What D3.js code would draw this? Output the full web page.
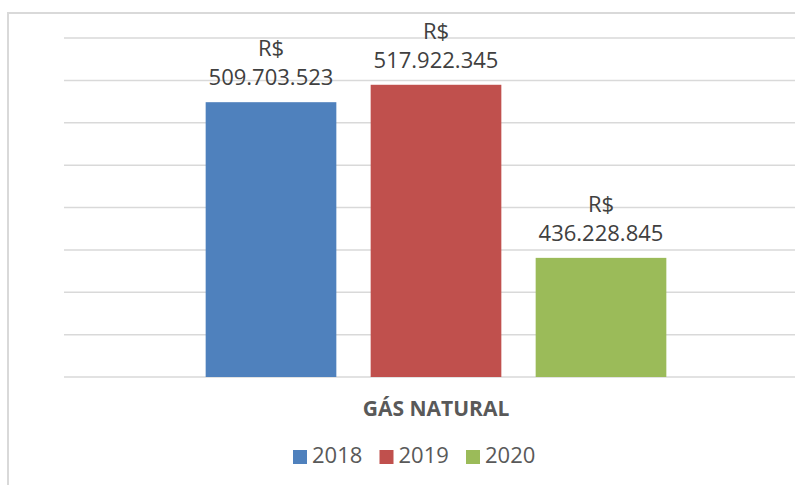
<!DOCTYPE html>
<html>
<head>
<meta charset="utf-8">
<script src="https://cdn.jsdelivr.net/npm/d3@7"></script>
<style>
  body { margin: 0; background: #fff; }
  svg { display: block; font-family: "Open Sans", sans-serif; }
</style>
</head>
<body>
<div id="chart"></div>
<script>
"use strict";

// data
var categories = ["GÁS NATURAL"];
var years = ["2018", "2019", "2020"];
var values = [509703523, 517922345, 436228845];
var colors = ["#4f81bd", "#c0504d", "#9bbb59"];
var yTicks = [380e6, 400e6, 420e6, 440e6, 460e6, 480e6, 500e6, 520e6, 540e6];

var width = 795, height = 485;

var svg = d3.select("#chart").append("svg")
    .attr("width", width)
    .attr("height", height);

// chart frame
svg.append("rect")
    .attr("x", 8).attr("y", 13)
    .attr("width", 820).attr("height", 500)
    .attr("fill", "none")
    .attr("stroke", "#d9d9d9")
    .attr("stroke-width", 2);

// scales
var x0 = d3.scaleBand()
    .domain(categories)
    .range([64, 808])
    .paddingOuter(0.3075);

var x1 = d3.scaleBand()
    .domain(years)
    .range([0, x0.bandwidth()])
    .paddingInner(0.208);

var y = d3.scaleLinear()
    .domain([380e6, 540e6])
    .range([377, 38]);

// gridlines
svg.append("g")
    .selectAll("line")
    .data(yTicks)
    .enter().append("line")
    .attr("x1", 64).attr("x2", 808)
    .attr("y1", function(d) { return y(d); })
    .attr("y2", function(d) { return y(d); })
    .attr("stroke", "#d9d9d9")
    .attr("stroke-width", 1.5);

var fmt = d3.formatLocale({ decimal: ",", thousands: ".", grouping: [3], currency: ["R$", ""] }).format(",d");

var g = svg.append("g")
    .attr("transform", "translate(" + x0(categories[0]) + ",0)");

g.selectAll("rect")
    .data(values)
    .enter().append("rect")
    .attr("x", function(d, i) { return x1(years[i]); })
    .attr("y", function(d) { return y(d); })
    .attr("width", x1.bandwidth())
    .attr("height", function(d) { return y(380e6) - y(d); })
    .attr("fill", function(d, i) { return colors[i]; });

// data labels
var lbl = g.selectAll("text.lbl")
    .data(values)
    .enter().append("text")
    .attr("class", "lbl")
    .attr("text-anchor", "middle")
    .attr("fill", "#404040")
    .style("font-size", "22px");

lbl.append("tspan")
    .attr("x", function(d, i) { return x1(years[i]) + x1.bandwidth() / 2; })
    .attr("y", function(d) { return y(d) - 46; })
    .text("R$");
lbl.append("tspan")
    .attr("x", function(d, i) { return x1(years[i]) + x1.bandwidth() / 2; })
    .attr("y", function(d) { return y(d) - 17; })
    .text(function(d) { return fmt(d); });

// category label
svg.append("text")
    .attr("x", x0(categories[0]) + x0.bandwidth() / 2)
    .attr("y", 416)
    .attr("text-anchor", "middle")
    .attr("fill", "#595959")
    .style("font-size", "21px")
    .style("font-weight", "bold")
    .text(categories[0]);

// legend
var legend = svg.append("g")
    .selectAll("g")
    .data(years)
    .enter().append("g")
    .attr("transform", function(d, i) { return "translate(" + (293 + i * 86.5) + ",0)"; });

legend.append("rect")
    .attr("x", 0).attr("y", 450)
    .attr("width", 14).attr("height", 14)
    .attr("fill", function(d, i) { return colors[i]; });

legend.append("text")
    .attr("x", 19).attr("y", 463)
    .attr("fill", "#595959")
    .style("font-size", "22px")
    .text(function(d) { return d; });
</script>
</body>
</html>
